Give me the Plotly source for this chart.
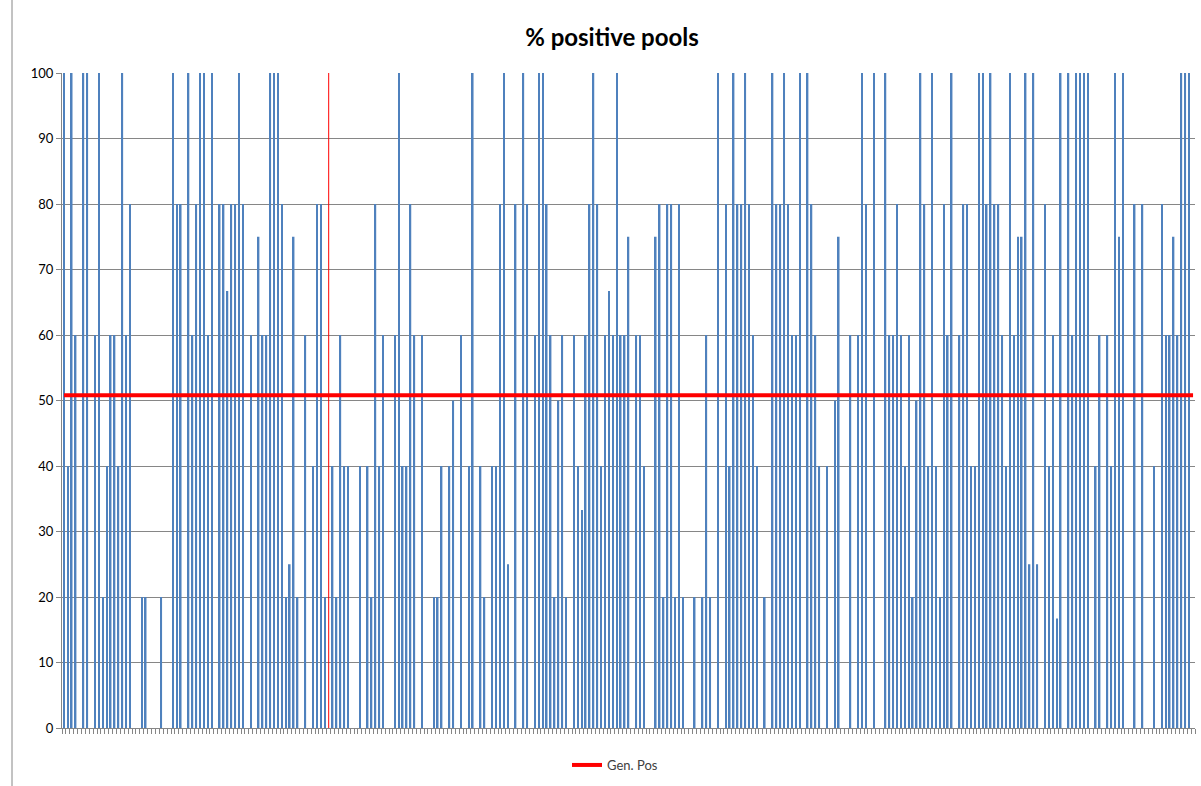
import plotly.graph_objects as go

# % positive pools per pool (category index 0..290)
values = [
    100, 40, 100, 60, 0, 100, 100, 0, 60, 100,      # 0-9
    20, 40, 60, 60, 40, 100, 60, 80, 0, 0,          # 10-19
    20, 20, 0, 0, 0, 20, 0, 0, 100, 80,             # 20-29
    80, 0, 100, 60, 80, 100, 100, 60, 100, 0,       # 30-39
    80, 80, 66.7, 80, 80, 100, 80, 0, 60, 0,        # 40-49
    75, 60, 60, 100, 100, 100, 80, 20, 25, 75,      # 50-59
    20, 0, 60, 0, 40, 80, 80, 20, 0, 40,            # 60-69
    20, 60, 40, 40, 0, 0, 40, 0, 40, 20,            # 70-79
    80, 40, 60, 0, 0, 60, 100, 40, 40, 80,          # 80-89
    60, 0, 60, 0, 0, 20, 20, 40, 0, 40,             # 90-99
    50, 0, 60, 0, 40, 100, 0, 40, 20, 0,            # 100-109
    40, 40, 80, 100, 25, 0, 80, 0, 100, 80,         # 110-119
    0, 60, 100, 100, 80, 60, 20, 50, 60, 20,        # 120-129
    0, 60, 40, 33.3, 60, 80, 100, 80, 40, 60,       # 130-139
    66.7, 60, 100, 60, 60, 75, 0, 60, 60, 40,       # 140-149
    0, 0, 75, 80, 20, 80, 80, 20, 80, 20,           # 150-159
    0, 0, 20, 0, 20, 60, 20, 0, 100, 0,             # 160-169
    80, 40, 100, 80, 80, 100, 80, 60, 40, 0,        # 170-179
    20, 0, 100, 80, 80, 100, 80, 60, 60, 100,       # 180-189
    0, 100, 80, 60, 40, 0, 40, 0, 50, 75,           # 190-199
    0, 0, 60, 0, 60, 100, 80, 0, 100, 0,            # 200-209
    0, 100, 60, 60, 80, 60, 40, 60, 20, 50,         # 210-219
    100, 80, 40, 100, 40, 20, 80, 60, 100, 0,       # 220-229
    60, 80, 80, 40, 40, 100, 100, 80, 100, 80,      # 230-239
    80, 60, 40, 100, 60, 75, 75, 100, 25, 100,      # 240-249
    25, 0, 80, 40, 60, 16.7, 100, 0, 100, 60,       # 250-259
    100, 100, 100, 100, 0, 40, 60, 0, 60, 40,       # 260-269
    100, 75, 100, 0, 0, 80, 0, 80, 0, 0,            # 270-279
    40, 0, 80, 60, 60, 75, 60, 100, 100, 100,       # 280-289
    0,                                              # 290
]
categories = list(range(len(values)))

gen_pos = 50.8          # "Gen. Pos" reference level
marker_category = 68    # thin red vertical marker
marker_span = [0, 100]

N = len(values)
fig = go.Figure()
fig.add_trace(go.Bar(
    x=categories, y=values, name="% positive",
    marker=dict(color="#4F81BD", line=dict(width=0)),
    showlegend=False,
))
fig.add_trace(go.Scatter(
    x=categories, y=[gen_pos] * N, mode="lines", name="Gen. Pos",
    line=dict(color="#FF0000", width=4),
))
fig.add_trace(go.Scatter(
    x=[marker_category, marker_category], y=marker_span, mode="lines",
    line=dict(color="#FF0000", width=1), showlegend=False, hoverinfo="skip",
))

L, R, T, B = 62, 1195, 73, 728
W, H = 1201, 786
fig.update_layout(
    width=W, height=H,
    margin=dict(l=L, r=W - R, t=T, b=H - B),
    paper_bgcolor="white", plot_bgcolor="white",
    bargap=0.6,
    font=dict(family="Lato, 'Open Sans', sans-serif", color="#000000"),
    title=dict(
        text="<b>% positive pools</b>",
        font=dict(size=24, family="Lato, 'Open Sans', sans-serif", color="#000000"),
        x=612 / W, xref="container", xanchor="center",
        y=1 - 38 / H, yref="container", yanchor="middle",
    ),
    legend=dict(
        orientation="h", x=(615 - L) / (R - L), xanchor="center",
        y=-(765 - B) / (B - T), yanchor="middle",
        font=dict(size=13, color="#404040"),
        bgcolor="rgba(0,0,0,0)",
    ),
    xaxis=dict(
        range=[-0.5, N - 0.5], showgrid=False, zeroline=False,
        showline=True, linecolor="#868686", linewidth=1,
        tickmode="array", tickvals=[i - 0.5 for i in range(N + 1)],
        ticks="outside", ticklen=5, tickcolor="#868686", tickwidth=1,
        showticklabels=False,
    ),
    yaxis=dict(
        range=[0, 100], dtick=10, showgrid=True, gridcolor="#868686", gridwidth=1,
        zeroline=False, showline=True, linecolor="#868686", linewidth=1,
        ticks="outside", ticklen=5, tickcolor="#868686",
        tickfont=dict(size=13, color="#000000"),
    ),
    shapes=[
        dict(type="line", xref="paper", yref="paper",
             x0=(12 - L) / (R - L), x1=(12 - L) / (R - L),
             y0=(B - H) / (B - T), y1=(B - 0) / (B - T),
             line=dict(color="#868686", width=1)),
    ],
)
fig.write_html("out.html", config={"displayModeBar": False},
               post_script="document.body.style.margin='0';")
